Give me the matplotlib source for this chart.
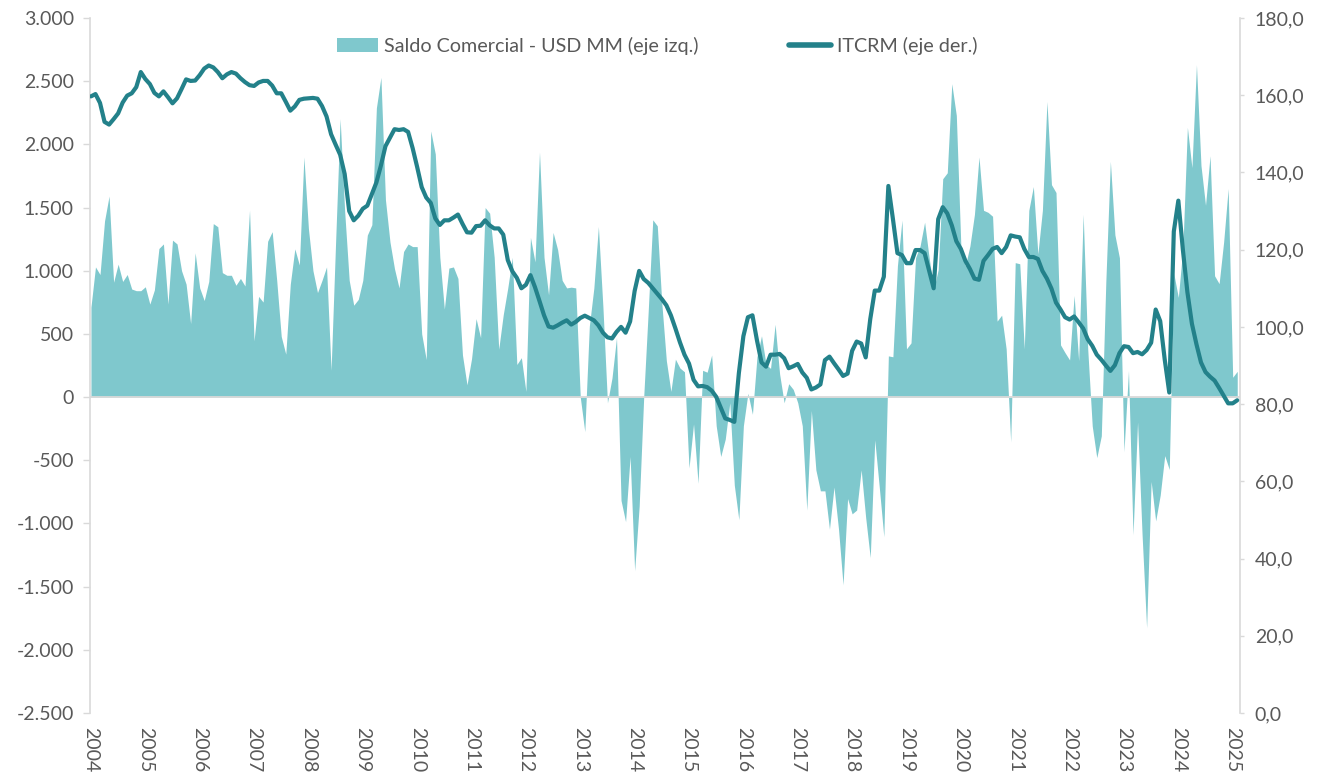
import matplotlib
matplotlib.use("Agg")
import matplotlib.pyplot as plt
from matplotlib.patches import Patch
from matplotlib.lines import Line2D
import numpy as np

plt.rcParams['font.family'] = ['Lato', 'DejaVu Sans']

# Monthly data, Jan 2004 - Feb 2025
saldo_comercial = [
    712, 1030, 970, 1394, 1591, 909, 1052, 915, 970, 855, 842, 842,          # 2004
    873, 736, 848, 1176, 1212, 736, 1242, 1212, 1000, 894, 582, 1142,        # 2005
    864, 764, 915, 1373, 1348, 985, 964, 964, 885, 939, 879, 1479,           # 2006
    445, 797, 752, 1233, 1309, 924, 480, 340, 894, 1173, 1045, 1900,         # 2007
    1333, 1000, 827, 924, 1030, 212, 1227, 2203, 1470, 924, 727, 773,        # 2008
    924, 1282, 1364, 2288, 2530, 1561, 1227, 1015, 864, 1152, 1212, 1191,    # 2009
    1191, 500, 297, 2106, 1924, 1106, 697, 1021, 1030, 939, 333, 97,         # 2010
    303, 621, 470, 1500, 1455, 1106, 379, 652, 864, 1106, 258, 312,          # 2011
    45, 1264, 1070, 1939, 1106, 809, 1303, 1167, 924, 864, 870, 864,         # 2012
    0, -273, 561, 864, 1350, 712, -45, 151, 470, -818, -985, -470,           # 2013
    -1373, -864, 0, 682, 1403, 1355, 742, 288, 45, 300, 230, 200,            # 2014
    -561, -212, -682, 212, 197, 333, -227, -470, -333, -45, -697, -970,      # 2015
    -227, 30, -136, 318, 485, 258, 227, 576, 182, -45, 106, 61,              # 2016
    -45, -227, -894, -106, -576, -742, -742, -1045, -712, -1045, -1485, -803,  # 2017
    -924, -894, -576, -955, -1270, -338, -714, -1105, 326, 319, 1039, 1400,  # 2018
    382, 429, 1102, 1196, 1384, 1102, 852, 1008, 1728, 1775, 2480, 2229,     # 2019
    1196, 1039, 1196, 1446, 1900, 1478, 1462, 1431, 601, 648, 382, -354,     # 2020
    1064, 1055, 382, 1478, 1666, 1133, 1478, 2339, 1681, 1619, 413, 351,     # 2021
    294, 804, 288, 1446, 382, -229, -479, -307, 915, 1866, 1284, 1102,       # 2022
    -432, 210, -1089, -197, -1089, -1825, -667, -980, -776, -463, -573, 977,  # 2023
    789, 1180, 2135, 1816, 2630, 1832, 1518, 1910, 960, 898, 1227, 1650,     # 2024
    157, 204,                                                                # 2025
]

itcrm = [
    159.7, 160.3, 158.0, 153.1, 152.4, 153.8, 155.3, 158.1, 159.9, 160.5, 162.1, 166.0,
    164.2, 162.9, 160.6, 159.7, 161.0, 159.5, 157.9, 159.2, 161.6, 164.1, 163.7, 163.8,
    165.2, 166.9, 167.7, 167.2, 166.0, 164.4, 165.4, 166.0, 165.6, 164.4, 163.4, 162.6,
    162.4, 163.3, 163.7, 163.7, 162.5, 160.5, 160.5, 158.3, 156.0, 157.1, 158.8, 159.1,
    159.2, 159.3, 159.1, 157.2, 154.5, 149.9, 147.2, 144.6, 139.6, 130.0, 127.6, 128.8,
    130.6, 131.4, 134.4, 137.4, 141.8, 146.8, 149.0, 151.2, 151.0, 151.2, 150.5, 146.3,
    141.4, 136.2, 133.5, 132.1, 128.1, 126.4, 127.6, 127.6, 128.3, 129.1, 126.7, 124.5,
    124.4, 126.1, 126.2, 127.6, 126.3, 125.5, 125.5, 123.9, 117.3, 114.4, 112.7, 110.0,
    110.9, 113.4, 110.3, 106.7, 103.0, 100.1, 99.8, 100.4, 101.1, 101.7, 100.6, 101.3,
    102.3, 102.9, 102.3, 101.7, 100.4, 98.5, 97.3, 97.0, 98.7, 100.0, 98.5, 101.4,
    109.3, 114.5, 112.4, 111.4, 110.0, 108.6, 107.2, 105.6, 103.0, 99.6, 96.0, 92.8,
    90.5, 86.3, 84.6, 84.7, 84.4, 83.5, 81.9, 79.1, 76.3, 75.9, 75.4, 88.0,
    97.6, 102.5, 103.0, 96.5, 90.8, 89.7, 92.8, 92.8, 93.0, 91.9, 89.3, 89.8,
    90.4, 88.2, 86.8, 83.8, 84.3, 85.1, 91.4, 92.3, 90.6, 89.0, 87.3, 87.9,
    93.8, 96.2, 95.7, 92.1, 102.0, 109.4, 109.4, 113.0, 136.5, 128.0, 119.1, 118.6,
    116.5, 116.5, 119.9, 119.9, 119.1, 114.5, 110.0, 127.9, 131.0, 129.4, 126.3, 122.2,
    120.2, 117.1, 115.0, 112.5, 112.2, 117.1, 118.6, 120.2, 120.7, 119.1, 120.7, 123.7,
    123.4, 123.2, 120.2, 118.1, 118.1, 117.6, 114.5, 112.5, 109.9, 106.3, 104.5, 102.5,
    101.9, 102.7, 101.2, 99.6, 96.8, 95.1, 92.8, 91.5, 90.0, 88.6, 90.1, 93.2,
    95.0, 94.8, 93.2, 93.5, 92.9, 94.0, 95.9, 104.5, 101.5, 91.5, 83.0, 124.7,
    132.7, 120.0, 109.0, 100.8, 95.5, 90.8, 88.3, 87.1, 86.1, 84.2, 82.2, 80.2,
    80.2, 81.0,
]

years = [str(y) for y in range(2004, 2026)]
left_ticks = [3000, 2500, 2000, 1500, 1000, 500, 0, -500, -1000, -1500, -2000, -2500]
right_ticks = [180, 160, 140, 120, 100, 80, 60, 40, 20, 0]
labels = ["Saldo Comercial - USD MM (eje izq.)", "ITCRM (eje der.)"]

AREA = '#7FC8CD'
LINE = '#23818A'
TXT = '#595959'
GRID = '#D9D9D9'

W, H = 1326, 778
fig = plt.figure(figsize=(W / 100, H / 100), dpi=100)
ax = fig.add_axes([90.5 / W, 65 / H, (1239.5 - 90.5) / W, 695 / H])

x = np.arange(len(saldo_comercial))
ax.fill_between(x, 0, saldo_comercial, color=AREA, linewidth=0, zorder=1)
ax.axhline(0, color=GRID, lw=1.3, zorder=2)
ax.set_ylim(-2500, 3000)
ax.set_xlim(-0.1, 253.5)
ax.set_yticks(left_ticks)
ax.set_yticklabels([f"{v:,.0f}".replace(',', '.') for v in left_ticks])
ax.set_xticks(np.arange(0, 12 * len(years), 12))
ax.set_xticklabels(years, rotation=270, ha='center', va='top')

for s in ['top', 'bottom', 'right']:
    ax.spines[s].set_visible(False)
ax.spines['left'].set_color(GRID)
ax.spines['left'].set_linewidth(1.2)
ax.tick_params(axis='y', direction='out', length=5, width=1, color=GRID,
               labelcolor=TXT, labelsize=14, pad=7)
ax.tick_params(axis='x', length=0, labelcolor=TXT, labelsize=14, pad=10)

ax2 = ax.twinx()
ax2.plot(np.arange(len(itcrm)), itcrm, color=LINE, lw=3.0, solid_joinstyle='round',
         solid_capstyle='round', zorder=3)
ax2.set_ylim(0, 180)
ax2.set_yticks(right_ticks)
ax2.set_yticklabels([f"{v:.1f}".replace('.', ',') for v in right_ticks])
for s in ['top', 'bottom', 'left']:
    ax2.spines[s].set_visible(False)
ax2.spines['right'].set_color(GRID)
ax2.spines['right'].set_linewidth(1.2)
ax2.tick_params(axis='y', direction='out', length=3, width=1, color=GRID,
                labelcolor=TXT, labelsize=14, pad=8)

handles = [Patch(facecolor=AREA, edgecolor='none'),
           Line2D([], [], color=LINE, lw=4, solid_capstyle='round')]
fig.legend(handles, labels, loc='center', bbox_to_anchor=(657 / W, 1 - 46 / H),
           ncol=2, frameon=False, fontsize=14.2, columnspacing=4.6,
           handlelength=2.1, handletextpad=0.3, labelcolor=TXT)

fig.savefig('out.png', dpi=100)
